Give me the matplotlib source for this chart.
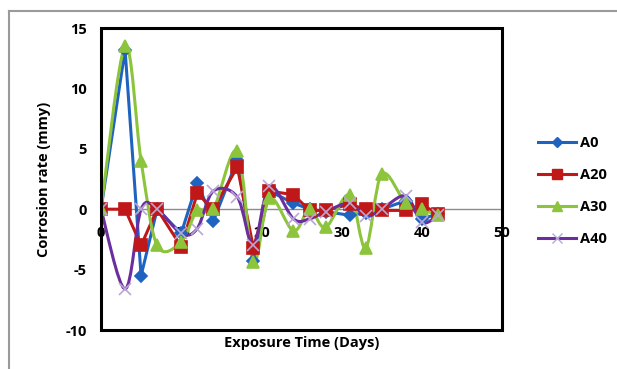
import numpy as np
import matplotlib.pyplot as plt
from matplotlib.path import Path
from matplotlib.patches import PathPatch, Rectangle
from matplotlib.lines import Line2D

plt.rcParams['font.family'] = ['Open Sans', 'DejaVu Sans']
plt.rcParams['axes.unicode_minus'] = False

# exposure time (days) and corrosion rate (mmy)
days = [0, 3, 5, 7, 10, 12, 14, 17, 19, 21, 24, 26, 28, 31, 33, 35, 38, 40, 42]
a0 = [0, 13.2, -5.5, 0, -2.0, 2.2, -1.0, 4.1, -4.3, 1.5, 0.5, 0.0, -0.2, -0.5, -0.3, 0.0, 0.7, -0.8, -0.4]
a20 = [0, 0, -3.0, 0, -3.1, 1.3, 0.0, 3.5, -3.2, 1.5, 1.2, -0.1, -0.1, 0.4, 0.0, -0.1, -0.1, 0.4, -0.4]
a30 = [0, 13.5, 4.0, -3.0, -2.7, -0.1, 0.0, 4.8, -4.4, 0.9, -1.8, 0.0, -1.5, 1.2, -3.2, 2.9, 0.5, 0.0, -0.5]
a40 = [0, -6.6, 0.0, 0.0, -2.0, -1.6, 1.5, 1.0, -3.0, 1.9, -0.8, -0.8, -0.2, 0.5, -0.6, 0.0, 1.1, -1.1, -0.5]

names = ["A0", "A20", "A30", "A40"]
colors = ["#1f63c0", "#c01818", "#8cc43c", "#6a2e9e"]
markers = ["D", "s", "^", "x"]
mcolors = ["#1f63c0", "#c01818", "#8cc43c", "#b9a6d6"]
msizes = [6, 8, 8, 8]
smooth = [False, False, True, True]


def smooth_path(x, y):
    # excel style smoothed line: bezier segments through the points
    x = np.asarray(x, float)
    y = np.asarray(y, float)
    n = len(x)
    verts = [(x[0], y[0])]
    codes = [Path.MOVETO]
    for i in range(n - 1):
        p0 = np.array([x[max(i - 1, 0)], y[max(i - 1, 0)]])
        p1 = np.array([x[i], y[i]])
        p2 = np.array([x[i + 1], y[i + 1]])
        p3 = np.array([x[min(i + 2, n - 1)], y[min(i + 2, n - 1)]])
        c1 = p1 + (p2 - p0) / 6.0
        c2 = p2 - (p3 - p1) / 6.0
        verts += [tuple(c1), tuple(c2), tuple(p2)]
        codes += [Path.CURVE4] * 3
    return Path(verts, codes)


fig = plt.figure(figsize=(6.17, 3.69), dpi=100)
ax = fig.add_axes([101 / 617, 1 - 330 / 369, 401 / 617, 302 / 369])

for vals, c, m, mc, ms, sm in zip([a0, a20, a30, a40], colors, markers, mcolors, msizes, smooth):
    if sm:
        ax.add_patch(PathPatch(smooth_path(days, vals), facecolor="none", edgecolor=c, lw=2.2, zorder=3))
    else:
        ax.plot(days, vals, color=c, lw=2.2, zorder=3)
    ax.plot(days, vals, ls="none", marker=m, color=mc, markersize=ms, mew=1.2, zorder=4)

ax.set_xlim(0, 50)
ax.set_ylim(-10, 15)
ax.set_xticks([0, 10, 20, 30, 40, 50])
ax.set_yticks([-10, -5, 0, 5, 10, 15])

# x axis crosses at zero
for s in ["top", "right", "left"]:
    ax.spines[s].set_visible(False)
ax.spines["bottom"].set_position(("data", 0))
ax.spines["bottom"].set_color("#8c8c8c")
ax.spines["bottom"].set_linewidth(1.0)
ax.tick_params(length=0, labelsize=10.5)
for lab in ax.get_xticklabels() + ax.get_yticklabels():
    lab.set_fontweight("bold")
ax.tick_params(axis="x", pad=12)
ax.tick_params(axis="y", pad=10)

ax.add_patch(Rectangle((0, 0), 1, 1, transform=ax.transAxes, fill=False,
                       edgecolor="black", lw=2.2, zorder=5, clip_on=False))

ax.set_ylabel("Corrosion rate (mmy)", fontsize=10.5, fontweight="bold")
ax.yaxis.set_label_coords(-0.125, 0.5)
ax.text(0.5, -0.02, "Exposure Time (Days)", transform=ax.transAxes, ha="center", va="top",
        fontsize=10.5, fontweight="bold")

handles = [Line2D([], [], color=c, lw=2.2, marker=m, markerfacecolor=mc, markeredgecolor=mc,
                  markersize=ms - 1) for c, m, mc, ms in zip(colors, markers, mcolors, msizes)]
fig.legend(handles, names, loc="center left", bbox_to_anchor=(525 / 617, 1 - 191 / 369),
           frameon=False, handlelength=2.6, handletextpad=0.3,
           labelspacing=1.25, prop={"weight": "bold", "size": 10.5})

# outer chart border (left and top)
fig.add_artist(Line2D([9 / 617, 9 / 617], [0, 1 - 11 / 369], color="#9a9a9a", lw=1.5))
fig.add_artist(Line2D([9 / 617, 1], [1 - 11 / 369, 1 - 11 / 369], color="#9a9a9a", lw=1.5))

fig.savefig("out.png", dpi=100)
